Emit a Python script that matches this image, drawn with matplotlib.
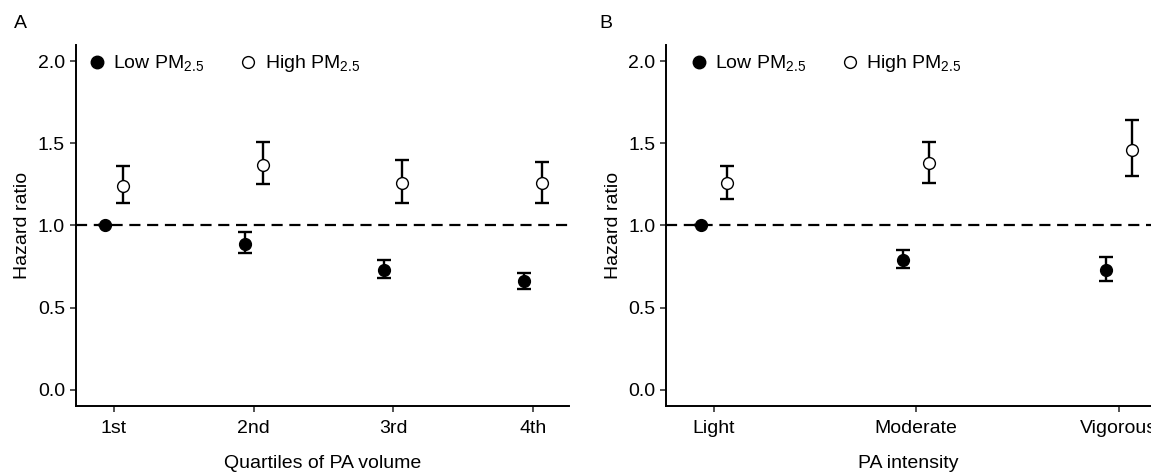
import numpy as np
import matplotlib
matplotlib.use('Agg')
import matplotlib.pyplot as plt
from matplotlib.lines import Line2D

plt.rcParams['font.family'] = ['Liberation Sans', 'DejaVu Sans']
plt.rcParams['mathtext.fontset'] = 'custom'
plt.rcParams['mathtext.rm'] = 'Liberation Sans'

# panel A: quartiles of PA volume
cats_a = ['1st', '2nd', '3rd', '4th']
low_a = [1.00, 0.89, 0.73, 0.66]
low_a_lo = [1.00, 0.83, 0.68, 0.61]
low_a_hi = [1.00, 0.96, 0.79, 0.71]
high_a = [1.24, 1.37, 1.26, 1.26]
high_a_lo = [1.14, 1.25, 1.14, 1.14]
high_a_hi = [1.36, 1.51, 1.40, 1.39]

# panel B: PA intensity
cats_b = ['Light', 'Moderate', 'Vigorous']
low_b = [1.00, 0.79, 0.73]
low_b_lo = [1.00, 0.74, 0.66]
low_b_hi = [1.00, 0.85, 0.81]
high_b = [1.26, 1.38, 1.46]
high_b_lo = [1.16, 1.26, 1.30]
high_b_hi = [1.36, 1.51, 1.64]

dodge = 0.064
fs = 14

fig = plt.figure(figsize=(11.51, 4.73), dpi=100)
ax_a = fig.add_axes([75.5/1151, 1-406/473, (569-75.5)/1151, (406-45)/473])
ax_b = fig.add_axes([666/1151, 1-406/473, (1151-666)/1151, (406-45)/473])


def draw_panel(ax, cats, low, low_lo, low_hi, high, high_lo, high_hi, xlim, xlabel, legx):
    x = np.arange(1, len(cats) + 1)
    ax.axhline(1.0, color='black', lw=1.6, ls=(0, (5, 3)), zorder=1)
    for xs, y, lo, hi, fc in [(x - dodge, low, low_lo, low_hi, 'black'),
                              (x + dodge, high, high_lo, high_hi, 'white')]:
        y = np.array(y)
        err = [y - np.array(lo), np.array(hi) - y]
        ax.errorbar(xs, y, yerr=err, fmt='none', ecolor='black', elinewidth=1.7,
                    capsize=5, capthick=1.7, zorder=2)
        ax.plot(xs, y, 'o', ms=8.5, mfc=fc, mec='black', mew=1.0, zorder=3)
    ax.set_xlim(*xlim)
    ax.set_ylim(-0.1, 2.1)
    ax.set_xticks(x)
    ax.set_xticklabels(cats)
    ax.set_yticks([0.0, 0.5, 1.0, 1.5, 2.0])
    ax.set_yticklabels(['0.0', '0.5', '1.0', '1.5', '2.0'])
    ax.set_ylabel('Hazard ratio', fontsize=fs, labelpad=5)
    ax.set_xlabel(xlabel, fontsize=fs, labelpad=13)
    for s in ['top', 'right']:
        ax.spines[s].set_visible(False)
    for s in ['left', 'bottom']:
        ax.spines[s].set_linewidth(1.4)
    ax.tick_params(axis='both', labelsize=fs, width=1.2, length=4, color='#333333')
    ax.tick_params(axis='x', pad=6)
    handles = [Line2D([], [], ls='none', marker='o', ms=9, mfc='black', mec='black'),
               Line2D([], [], ls='none', marker='o', ms=8.5, mfc='white', mec='black', mew=1.0)]
    ax.legend(handles, ['Low PM$_{2.5}$', 'High PM$_{2.5}$'], ncol=2, frameon=False,
              loc='center left', bbox_to_anchor=(legx, (2.0 + 0.1) / 2.2 - 0.007),
              fontsize=fs, handlelength=0.9, handletextpad=0.4, columnspacing=1.8,
              borderaxespad=0.25)


draw_panel(ax_a, cats_a, low_a, low_a_lo, low_a_hi, high_a, high_a_lo, high_a_hi,
           (0.724, 4.26), 'Quartiles of PA volume', 0.0)
draw_panel(ax_b, cats_b, low_b, low_b_lo, low_b_hi, high_b, high_b_lo, high_b_hi,
           (0.763, 3.16), 'PA intensity', 0.023)

fig.text(14/1151, 1-23/473, 'A', fontsize=fs, va='center')
fig.text(599/1151, 1-23/473, 'B', fontsize=fs, va='center')

fig.savefig('out.png', dpi=100)
